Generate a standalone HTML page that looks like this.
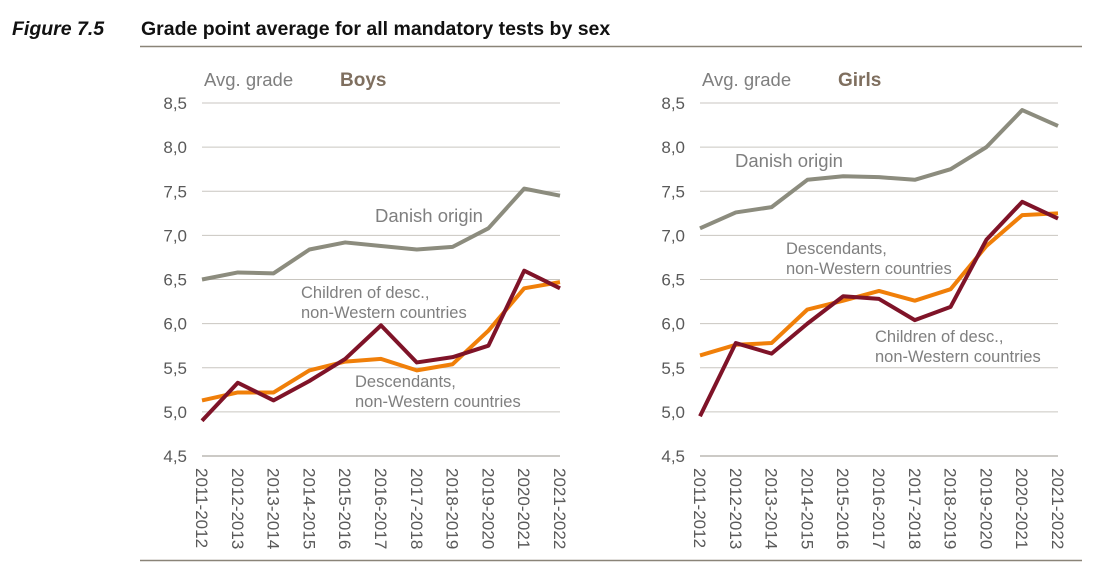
<!DOCTYPE html>
<html><head><meta charset="utf-8"><style>
body{margin:0;background:#fff;width:1111px;height:582px;overflow:hidden;font-family:"Liberation Sans",Arial,sans-serif}
</style></head><body>
<svg id="svg" width="1111" height="582" xmlns="http://www.w3.org/2000/svg">
<text x="12" y="35" font-size="19.5" font-weight="bold" font-style="italic" fill="#111">Figure 7.5</text>
<text x="141" y="35" font-size="19.5" font-weight="bold" fill="#111">Grade point average for all mandatory tests by sex</text>
<line x1="140" y1="46.5" x2="1082" y2="46.5" stroke="#8a8478" stroke-width="1.5"/>
<line x1="140" y1="560.5" x2="1082" y2="560.5" stroke="#8a8478" stroke-width="1.5"/>
<g id="charts"></g>
</svg>
<script>
const categories=["2011-2012","2012-2013","2013-2014","2014-2015","2015-2016","2016-2017","2017-2018","2018-2019","2019-2020","2020-2021","2021-2022"];
const yTicks=[4.5,5.0,5.5,6.0,6.5,7.0,7.5,8.0,8.5];
const tickLabels=["4,5","5,0","5,5","6,0","6,5","7,0","7,5","8,0","8,5"];
const boysDanish=[6.50,6.58,6.57,6.84,6.92,6.88,6.84,6.87,7.08,7.53,7.45];
const boysChildren=[4.90,5.33,5.13,5.35,5.60,5.98,5.56,5.62,5.75,6.60,6.40];
const boysDesc=[5.13,5.22,5.22,5.47,5.57,5.60,5.47,5.54,5.92,6.40,6.47];
const girlsDanish=[7.08,7.26,7.32,7.63,7.67,7.66,7.63,7.75,8.00,8.42,8.24];
const girlsChildren=[4.95,5.78,5.66,6.00,6.31,6.28,6.04,6.19,6.95,7.38,7.19];
const girlsDesc=[5.64,5.76,5.78,6.16,6.26,6.37,6.26,6.39,6.88,7.23,7.25];
const NS="http://www.w3.org/2000/svg";
const root=document.getElementById('charts');
function mk(tag,at,parent){const e=document.createElementNS(NS,tag);for(const k in at)e.setAttribute(k,at[k]);(parent||root).appendChild(e);return e;}
const yScale=v=>456-(v-4.5)*88.25;
function chart(x0,name,title,series,labels){
  const g=mk('g',{});
  
  
  const xs=i=>x0+i*35.8;
  yTicks.forEach((v,i)=>{
    const l=mk('line',{x1:x0,x2:x0+358,y1:yScale(v),y2:yScale(v),stroke:i==0?'#9a958c':'#c9c6c0','stroke-width':1},g);
    
    
    const t=mk('text',{x:x0-15,y:yScale(v)+6,'text-anchor':'end','font-size':17,fill:'#595959'},g);
    t.textContent=tickLabels[i];
    
    
  });
  categories.forEach((c,i)=>{
    const t=mk('text',{transform:`translate(${xs(i)-6},468) rotate(90)`,'font-size':17,fill:'#595959'},g);
    t.textContent=c;
    
    
  });
  const a=mk('text',{x:x0+2,y:86,'font-size':18.5,fill:'#7f7f7f'},g);a.textContent='Avg. grade';
  
  
  const tt=mk('text',{x:x0+138,y:86,'font-size':19,'font-weight':'bold',fill:'#7f6f5f'},g);tt.textContent=title;
  
  
  series.forEach(s=>{
    const p=mk('polyline',{points:s.d.map((v,i)=>xs(i)+','+yScale(v)).join(' '),fill:'none',stroke:s.c,'stroke-width':4,'stroke-linejoin':'round'},g);
    
    
  });
  labels.forEach(L=>{
    L.t.forEach((line,j)=>{
      const t=mk('text',{x:x0+L.x,y:L.y+j*20,'font-size':L.fs||16.5,fill:'#7f7f7f'},g);t.textContent=line;
      
      
    });
  });
}
chart(202,'boys-chart','Boys',[
 {d:boysDanish,c:'#8c8c7e',n:'line-danish-origin'},
 {d:boysDesc,c:'#f07f09',n:'line-descendants'},
 {d:boysChildren,c:'#7f1328',n:'line-children-of-desc'}],
 [{x:173,y:222,t:['Danish origin'],fs:18.5},{x:99,y:298,t:['Children of desc.,','non-Western countries']},{x:153,y:387,t:['Descendants,','non-Western countries']}]);
chart(700,'girls-chart','Girls',[
 {d:girlsDanish,c:'#8c8c7e',n:'line-danish-origin'},
 {d:girlsDesc,c:'#f07f09',n:'line-descendants'},
 {d:girlsChildren,c:'#7f1328',n:'line-children-of-desc'}],
 [{x:35,y:167,t:['Danish origin'],fs:18.5},{x:86,y:254,t:['Descendants,','non-Western countries']},{x:175,y:342,t:['Children of desc.,','non-Western countries']}]);
</script>
</body></html>
